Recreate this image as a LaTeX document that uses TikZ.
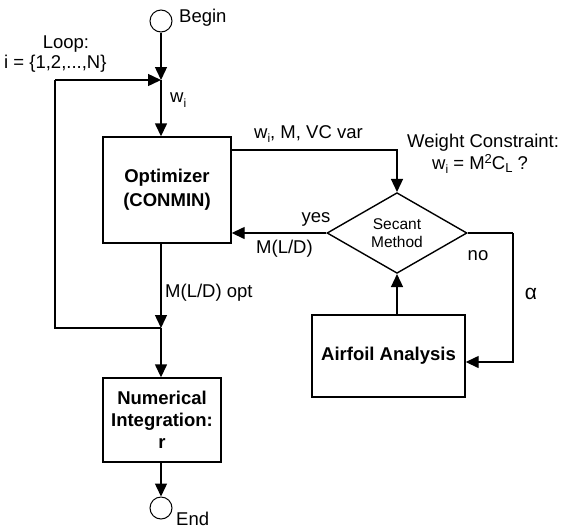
\documentclass[tikz,border=0pt]{standalone}
\usepackage{fontspec}
\setmainfont{Liberation Sans}
\usetikzlibrary{shapes.geometric,arrows.meta}
\begin{document}
\begin{tikzpicture}[x=1pt,y=-1pt,
  every node/.style={font=\fontsize{18.5}{21}\selectfont},
  ln/.style={line width=1.4pt},
  arr/.style={ln,-{Triangle[width=12pt,length=13pt]}},
  term/.style={draw,line width=1pt,circle,minimum size=22pt,inner sep=0pt},
  procbox/.style={draw,line width=1.4pt,rectangle,inner sep=0pt,align=center,font=\fontsize{18.5}{24}\selectfont\bfseries},
  decision/.style={draw,line width=1.4pt,diamond,minimum width=140pt,minimum height=70pt,inner sep=0pt,align=center,font=\fontsize{15.5}{18}\selectfont},
  lbl/.style={inner sep=0pt,anchor=west}]
\useasboundingbox (0,0) rectangle (572,528);

\node[term] (begin) at (161,21) {};
\node[procbox,minimum width=128pt,minimum height=106pt] (opt) at (167,190) {Optimizer\\(CONMIN)};
\node[procbox,minimum width=118pt,minimum height=84pt,font=\fontsize{18.5}{22}\selectfont\bfseries] (num) at (162,420) {Numerical\\Integration:\\r};
\node[term] (end) at (161,508) {};
\node[decision] (dia) at (397,233) {Secant\\Method};
\node[procbox,minimum width=153pt,minimum height=82pt] (air) at (388.5,356) {Airfoil Analysis};

\coordinate (j1) at (161,80);
\coordinate (j2) at (161,328);
\coordinate (lt) at (55,80);
\coordinate (lb) at (55,328);
\coordinate (r1) at (513,233);
\coordinate (r2) at (513,362);
\coordinate (o1) at ([yshift=40pt]opt.east);

% connectors
\draw[arr] (begin) -- (j1);
\draw[arr] (j1) -- (j1 |- opt.north);
\draw[ln] (j2) -- (lb) -- (lt);
\draw[arr] (lt) -- (j1);
\draw[arr] (j1 |- opt.south) -- (j2);
\draw[arr] (j2) -- (j2 |- num.north);
\draw[arr] (j2 |- num.south) -- (end);
\draw[arr] (o1) -| (dia.north);
\draw[arr] (dia.west) -- (opt.east |- dia.west);
\draw[ln] (dia.east) -- (r1);
\draw[arr] (r1) -- (r2) -- (air.east |- r2);
\draw[arr] (dia.south |- air.north) -- (dia.south);

% labels
\node[lbl] (tbegin) at (179,18) {Begin};
\node[lbl] (tend) at (176,519) {End};
\node (tloop) at (66,44) {Loop:};
\node[lbl] (tidx) at (4,64) {i = \{1,2,...,N\}};
\node[lbl] (tw) at (170,100) {w\raisebox{-0.45ex}{\fontsize{12}{12}\selectfont i}};
\node[lbl] (tvars) at (254,134) {w\raisebox{-0.45ex}{\fontsize{12}{12}\selectfont i}, M, VC var};
\node[lbl] (twc) at (407,143) {Weight Constraint:};
\node[lbl] (teq) at (432,164) {w\raisebox{-0.45ex}{\fontsize{12}{12}\selectfont i} = M\raisebox{0.6ex}{\fontsize{13}{13}\selectfont 2}C\raisebox{-0.3ex}{\fontsize{13}{13}\selectfont L} ?};
\node (tyes) at (316,219) {yes};
\node[lbl] (tmld) at (256,249) {M(L/D)};
\node (tno) at (478,256) {no};
\node[font=\fontsize{21}{21}\selectfont] (talpha) at (531,294) {α};
\node[lbl] (topt) at (165,293) {M(L/D) opt};
\end{tikzpicture}
\end{document}
